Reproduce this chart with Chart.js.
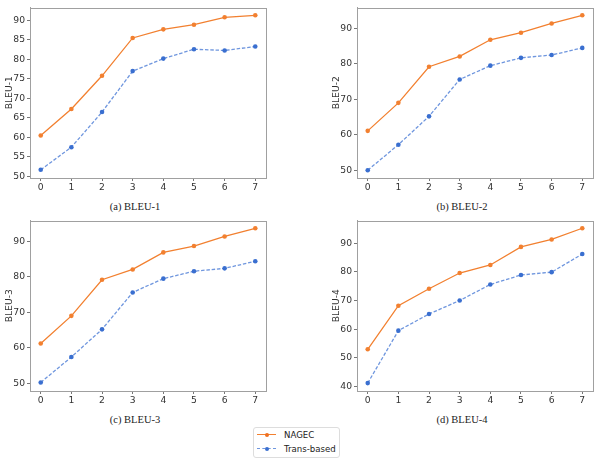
<html lang="en">
  <head>
    <meta charset="utf-8" />
    <title>BLEU curves</title>
    <script src="https://cdn.jsdelivr.net/npm/chart.js@4.4.1/dist/chart.umd.min.js"></script>
    <style>
      html, body {
        margin: 0;
        padding: 0;
        width: 600px;
        height: 464px;
        overflow: hidden;
        background: #fff;
        position: relative;
      }
      .panel {
        position: absolute;
      }
      .caption {
        position: absolute;
        transform: translate(-50%, -50%);
        font-family: "Liberation Serif", serif;
        font-size: 10.5px;
        color: #222;
        white-space: nowrap;
      }
      #legend {
        position: absolute;
        left: 253px;
        top: 427px;
        width: 85px;
        height: 29px;
        border: 1px solid #ddd;
        border-radius: 3px;
        font-family: "DejaVu Sans", sans-serif;
        font-size: 8.6px;
        color: #222;
      }
      .item {
        position: absolute;
        left: 3px;
        height: 10px;
        line-height: 10px;
      }
      .sample {
        position: absolute;
        left: 0;
        top: 4px;
        width: 19px;
        height: 0;
      }
      .dot {
        position: absolute;
        left: 8px;
        top: -2px;
        width: 4px;
        height: 4px;
        border-radius: 50%;
      }
      .label {
        position: absolute;
        left: 27px;
        top: 0;
        white-space: nowrap;
      }
    </style>
  </head>
  <body>
    <canvas id="c1" class="panel"></canvas>
    <canvas id="c2" class="panel"></canvas>
    <canvas id="c3" class="panel"></canvas>
    <canvas id="c4" class="panel"></canvas>

    <div class="caption" style="left:135px; top:206px">(a) BLEU-1</div>
    <div class="caption" style="left:462px; top:206px">(b) BLEU-2</div>
    <div class="caption" style="left:135px; top:419px">(c) BLEU-3</div>
    <div class="caption" style="left:462px; top:419px">(d) BLEU-4</div>

    <div id="legend">
      <div class="item" style="top:2px">
        <div class="sample" style="border-top:1.3px solid #f28030">
          <div class="dot" style="background:#f07020"></div>
        </div>
        <span class="label">NAGEC</span>
      </div>
      <div class="item" style="top:16px">
        <div class="sample" style="border-top:1.3px dashed #6f96de">
          <div class="dot" style="background:#3a6fd0"></div>
        </div>
        <span class="label">Trans-based</span>
      </div>
    </div>

    <script>
      // x positions (steps)
      const steps = [0, 1, 2, 3, 4, 5, 6, 7];
      const seriesNames = ["NAGEC", "Trans-based"];

      // BLEU-1
      const nagecB1 = [60.5, 67.3, 75.8, 85.5, 87.7, 88.9, 90.8, 91.3];
      const transB1 = [51.7, 57.5, 66.5, 77.0, 80.2, 82.6, 82.3, 83.3];
      // BLEU-2
      const nagecB2 = [61.1, 69.0, 79.2, 82.1, 86.8, 88.8, 91.4, 93.7];
      const transB2 = [50.0, 57.2, 65.2, 75.6, 79.5, 81.7, 82.5, 84.5];
      // BLEU-3
      const nagecB3 = [61.2, 69.0, 79.2, 82.1, 86.9, 88.7, 91.4, 93.7];
      const transB3 = [50.2, 57.4, 65.2, 75.6, 79.5, 81.6, 82.4, 84.4];
      // BLEU-4
      const nagecB4 = [53.0, 68.2, 74.1, 79.6, 82.4, 88.7, 91.3, 95.2];
      const transB4 = [41.2, 59.5, 65.3, 70.0, 75.6, 78.9, 79.9, 86.2];

      // tick labels
      const xTicks = [0, 1, 2, 3, 4, 5, 6, 7];
      const yTicksB1 = [50, 55, 60, 65, 70, 75, 80, 85, 90];
      const yTicksB23 = [50, 60, 70, 80, 90];
      const yTicksB4 = [40, 50, 60, 70, 80, 90];

      // axis limits
      const limB1 = [49.6, 93.3];
      const limB23 = [47.8, 95.9];
      const limB4 = [38.45, 97.9];

      const orange = "#f28030";
      const blue = "#3a6fd0";
      const blueLine = "#6f96de";
      const frameColor = "#a0a0a0";

      // box around the plot area, like matplotlib spines
      const framePlugin = {
        id: "frame",
        afterDraw(chart) {
          const a = chart.chartArea;
          const ctx = chart.ctx;
          ctx.save();
          ctx.strokeStyle = frameColor;
          ctx.lineWidth = 1;
          ctx.strokeRect(Math.round(a.left) + 0.5, Math.round(a.top) + 0.5,
            Math.round(a.right - a.left), Math.round(a.bottom - a.top));
          ctx.restore();
        }
      };

      function toPoints(vals) {
        return vals.map((v, i) => ({ x: steps[i], y: v }));
      }

      function makePanel(id, left, top, width, padRight, title, nagec, trans, yTicks, lim) {
        const canvas = document.getElementById(id);
        canvas.style.left = left + "px";
        canvas.style.top = top + "px";
        canvas.width = width;
        canvas.height = 200;
        canvas.style.width = width + "px";
        canvas.style.height = "200px";

        const tickFont = { family: "DejaVu Sans", size: 9.2 };

        new Chart(canvas.getContext("2d"), {
          type: "line",
          data: {
            datasets: [
              {
                label: seriesNames[0],
                data: toPoints(nagec),
                borderColor: orange,
                backgroundColor: orange,
                borderWidth: 1.3,
                pointRadius: 2.3,
                pointBorderWidth: 0,
                tension: 0
              },
              {
                label: seriesNames[1],
                data: toPoints(trans),
                borderColor: blueLine,
                backgroundColor: blue,
                borderWidth: 1.3,
                borderDash: [3.5, 1.8],
                pointRadius: 2.3,
                pointBorderWidth: 0,
                tension: 0
              }
            ]
          },
          options: {
            responsive: false,
            animation: false,
            layout: {
              padding: { left: 0, top: 6, right: padRight, bottom: 0 }
            },
            plugins: {
              legend: { display: false },
              tooltip: { enabled: false }
            },
            scales: {
              x: {
                type: "linear",
                min: -0.35,
                max: 7.35,
                afterBuildTicks: (scale) => {
                  scale.ticks = xTicks.map((v) => ({ value: v }));
                },
                afterFit: (scale) => {
                  scale.height = 22;
                },
                grid: {
                  drawOnChartArea: false,
                  drawTicks: true,
                  tickLength: 3,
                  color: "#777"
                },
                border: { display: true, color: frameColor },
                ticks: {
                  font: tickFont,
                  color: "#333",
                  padding: 1,
                  maxRotation: 0
                }
              },
              y: {
                min: lim[0],
                max: lim[1],
                afterBuildTicks: (scale) => {
                  scale.ticks = yTicks.map((v) => ({ value: v }));
                },
                afterFit: (scale) => {
                  scale.width = 30;
                },
                grid: {
                  drawOnChartArea: false,
                  drawTicks: true,
                  tickLength: 3,
                  color: "#777"
                },
                border: { display: true, color: frameColor },
                ticks: {
                  font: tickFont,
                  color: "#333",
                  padding: 2
                },
                title: {
                  display: true,
                  text: title,
                  font: { family: "DejaVu Sans", size: 9.2 },
                  color: "#333",
                  padding: { top: 4, bottom: 0 }
                }
              }
            }
          },
          plugins: [framePlugin]
        });
      }

      makePanel("c1", 0, 0, 280, 14, "BLEU-1", nagecB1, transB1, yTicksB1, limB1);
      makePanel("c2", 327, 0, 273, 7, "BLEU-2", nagecB2, transB2, yTicksB23, limB23);
      makePanel("c3", 0, 213, 280, 14, "BLEU-3", nagecB3, transB3, yTicksB23, limB23);
      makePanel("c4", 327, 213, 273, 7, "BLEU-4", nagecB4, transB4, yTicksB4, limB4);
    </script>
  </body>
</html>
